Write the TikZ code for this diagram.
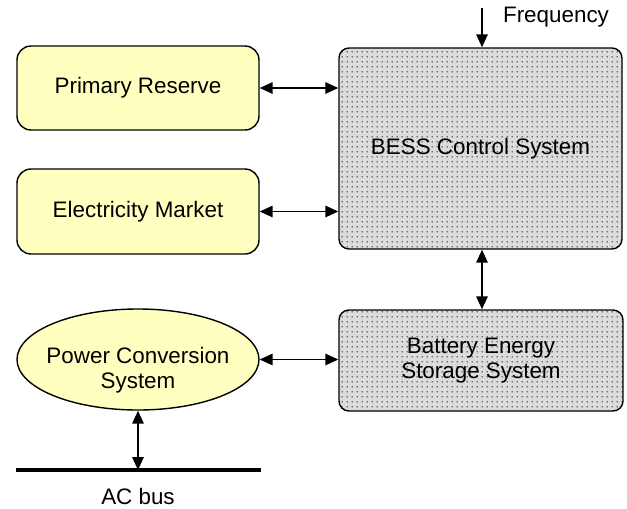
\documentclass[tikz,border=0pt]{standalone}
\usepackage{fontspec}
\setmainfont{Liberation Sans}
\usetikzlibrary{arrows.meta,shapes.geometric,patterns}
\definecolor{boxyellow}{RGB}{255,255,192}
\definecolor{boxgray}{RGB}{220,220,220}
\pgfdeclarepatternformonly{bessdots}{\pgfpointorigin}{\pgfpoint{5pt}{5pt}}{\pgfpoint{5pt}{5pt}}{%
  \pgfpathcircle{\pgfpoint{2.5pt}{2.5pt}}{0.8pt}\pgfusepath{fill}}
\tikzset{
  txt/.style={font=\fontsize{22.4}{25.5}\selectfont, align=center},
  ybox/.style={txt, draw, line width=1.4pt, rounded corners=14pt, fill=boxyellow, inner sep=0pt},
  gbox/.style={txt, draw, line width=1.4pt, rounded corners=10pt, preaction={fill=boxgray}, pattern=bessdots, pattern color=black, inner sep=0pt},
  conn/.style={line width=1.5pt, {Triangle[length=13pt,width=11.5pt]}-{Triangle[length=13pt,width=11.5pt]}},
  oneway/.style={line width=1.5pt, -{Triangle[length=13pt,width=11.5pt]}},
}
\begin{document}
\begin{tikzpicture}[x=1pt,y=-1pt]
\useasboundingbox (0,0) rectangle (627,509);
\node[ybox, minimum width=242pt, minimum height=84pt] (pr) at (138,88) {Primary Reserve};
\node[ybox, minimum width=242pt, minimum height=85pt] (em) at (138,211.5) {Electricity Market};
\node[gbox, minimum width=283pt, minimum height=201pt] (bess) at (480.5,148.5) {BESS Control System};
\node[gbox, minimum width=284pt, minimum height=101pt] (bat) at (481,360.5) {Battery Energy\\Storage System};
\node[ellipse, draw, line width=1.4pt, fill=boxyellow, minimum width=242pt, minimum height=101pt, inner sep=0pt] (pcs) at (138,359.5) {};
\node[txt] (pcstext) at (138,370) {Power Conversion\\System};
\node[txt] (freq) at (556,17) {Frequency};
\coordinate (fstart) at (482,8);
\coordinate (bus1) at (16,470);
\coordinate (bus2) at (261,470);
\coordinate (busmid) at (138,470);
\node[txt] (acbus) at (138,496) {AC bus};
\draw[line width=4pt] (bus1) -- (bus2);
\draw[oneway] (fstart) -- (fstart |- bess.north);
\draw[conn] (pr.east) -- (pr.east -| bess.west);
\draw[conn] (em.east) -- (em.east -| bess.west);
\draw[conn] (bess.south -| fstart) -- (bat.north -| fstart);
\draw[conn] (pcs.east) -- (pcs.east -| bat.west);
\draw[conn] (pcs.south) -- (busmid);
\end{tikzpicture}
\end{document}
